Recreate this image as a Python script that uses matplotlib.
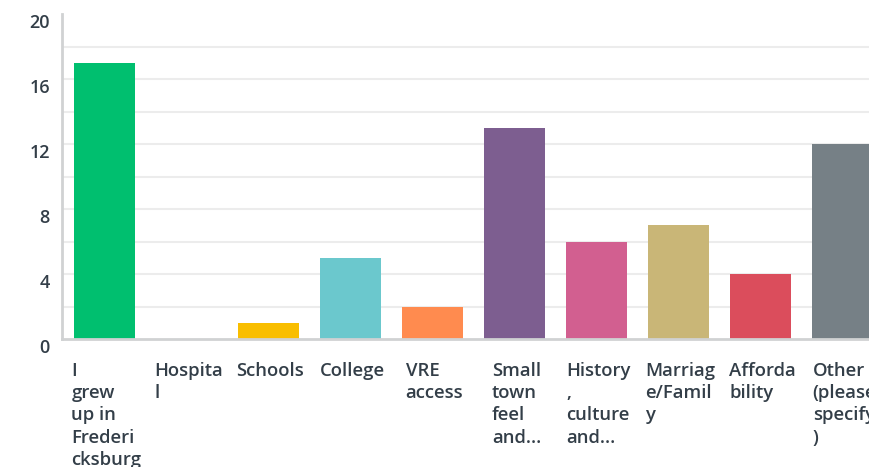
import matplotlib
matplotlib.use("Agg")
import matplotlib.pyplot as plt
import matplotlib.transforms as mtransforms

# answer choices (already wrapped as in the source chart)
labels = [
    "I\ngrew\nup in\nFrederi\ncksburg",
    "Hospita\nl",
    "Schools",
    "College",
    "VRE\naccess",
    "Small\ntown\nfeel\nand...",
    "History\n,\nculture\nand...",
    "Marriag\ne/Famil\ny",
    "Afforda\nbility",
    "Other\n(please\nspecify\n)",
]
counts = [17, 0, 1, 5, 2, 13, 6, 7, 4, 12]
colors = ["#00bf6f", "#507cb6", "#f9be00", "#6bc8cd", "#ff8b4f",
          "#7d5e90", "#d25f90", "#c9b677", "#db4d5c", "#768086"]
yticks = [0, 4, 8, 12, 16, 20]

text_color = "#333e48"
font = "Open Sans"

W, H = 870, 467
fig = plt.figure(figsize=(W / 100, H / 100), dpi=100)
# axes placed in pixels: left edge 62, bottom 339 (from top), top 14; runs off the right side
ax = fig.add_axes([62 / W, (H - 339) / H, (870 - 62) / W, 325 / H])

x = list(range(len(counts)))
ax.bar(x, counts, width=0.744, color=colors, zorder=3)

ax.set_xlim(-0.518, 9.335)
ax.set_ylim(0, 20)

# grid every 2 units, no line at the top
for g in range(2, 20, 2):
    ax.axhline(g, color="#ececec", lw=1.5, zorder=1)

for side in ["top", "right"]:
    ax.spines[side].set_visible(False)
for side in ["left", "bottom"]:
    ax.spines[side].set_color("#d0d2d3")
    ax.spines[side].set_linewidth(2)
    ax.spines[side].set_zorder(4)

ax.set_xticks([])
ax.set_yticks([])

# y labels, shifted a bit down like the original
ytrans = mtransforms.blended_transform_factory(ax.transAxes, ax.transData)
yoff = mtransforms.ScaledTranslation(-12 / 100, -9 / 100, fig.dpi_scale_trans)
for v in yticks:
    ax.text(0, v, str(v), transform=ytrans + yoff, ha="right", va="center",
            fontsize=13, fontfamily=font, fontweight="semibold", color=text_color)

# category labels under the bars
xtrans = mtransforms.blended_transform_factory(ax.transData, ax.transAxes)
xoff = mtransforms.ScaledTranslation(2 / 100, -23 / 100, fig.dpi_scale_trans)
for i, lab in enumerate(labels):
    ax.text(i, 0, lab, transform=xtrans + xoff, ha="center", va="top",
            multialignment="left", fontsize=13.3, fontfamily=font,
            fontweight="semibold", color=text_color, linespacing=1.3)

fig.savefig("out.png", dpi=100)
